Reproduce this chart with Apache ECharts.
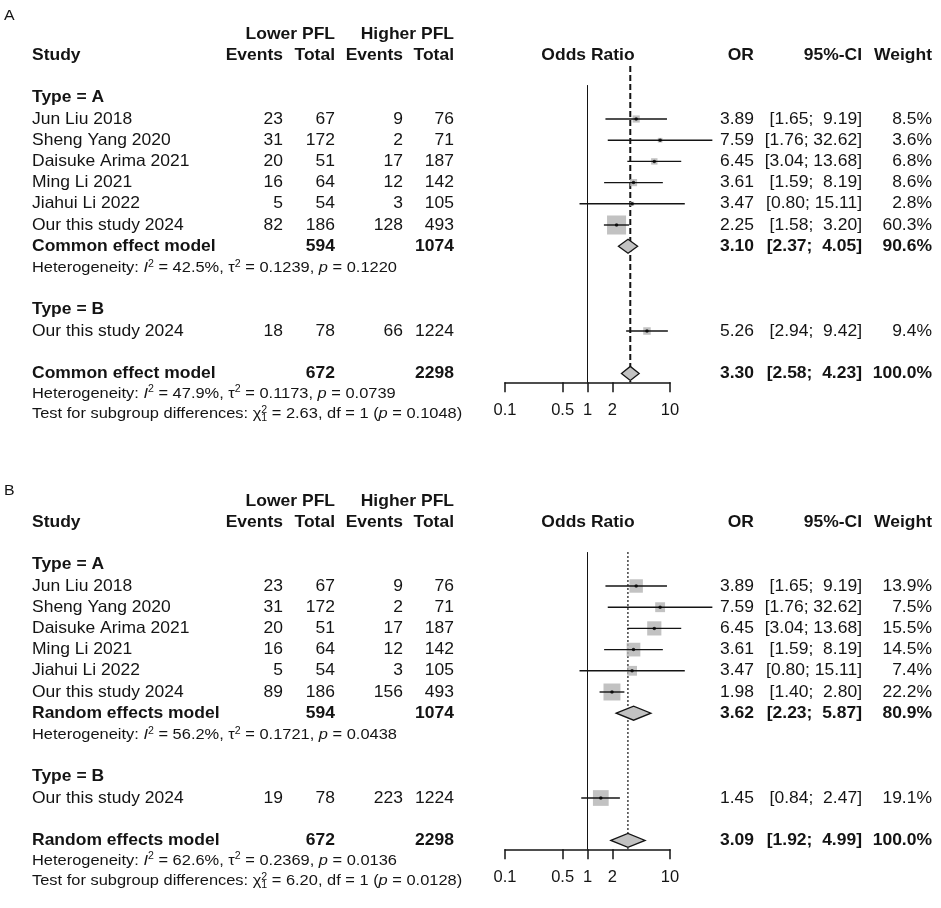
<!DOCTYPE html>
<html><head><meta charset="utf-8">
<script src="https://cdn.jsdelivr.net/npm/echarts@6/dist/echarts.min.js"></script>
<style>html,body{margin:0;padding:0;background:#fff}#c{width:941px;height:908px}</style>
</head><body><div id="c"></div>
<script>
// ================= DATA =================
// rows: 6 studies of Type = A, then the single study of Type = B
const studyNames = ['Jun Liu 2018','Sheng Yang 2020','Daisuke Arima 2021','Ming Li 2021','Jiahui Li 2022','Our this study 2024','Our this study 2024'];
const studyType  = ['A','A','A','A','A','A','B'];

// Panel A (common effect model)
const aLowEvents  = [23, 31, 20, 16, 5, 82, 18];
const aLowTotal   = [67, 172, 51, 64, 54, 186, 78];
const aHighEvents = [9, 2, 17, 12, 3, 128, 66];
const aHighTotal  = [76, 71, 187, 142, 105, 493, 1224];
const aOR     = [3.89, 7.59, 6.45, 3.61, 3.47, 2.25, 5.26];
const aLower  = [1.65, 1.76, 3.04, 1.59, 0.80, 1.58, 2.94];
const aUpper  = [9.19, 32.62, 13.68, 8.19, 15.11, 3.20, 9.42];
const aWeight = [8.5, 3.6, 6.8, 8.6, 2.8, 60.3, 9.4];
// model rows: [subgroup A, overall]
const aModelLowTotal  = [594, 672];
const aModelHighTotal = [1074, 2298];
const aModelOR     = [3.10, 3.30];
const aModelLower  = [2.37, 2.58];
const aModelUpper  = [4.05, 4.23];
const aModelWeight = [90.6, 100.0];
const aHetI2   = ['42.5', '47.9'];
const aHetTau2 = ['0.1239', '0.1173'];
const aHetP    = ['0.1220', '0.0739'];
const aTestChi2 = '2.63', aTestDf = '1', aTestP = '0.1048';

// Panel B (random effects model)
const bLowEvents  = [23, 31, 20, 16, 5, 89, 19];
const bLowTotal   = [67, 172, 51, 64, 54, 186, 78];
const bHighEvents = [9, 2, 17, 12, 3, 156, 223];
const bHighTotal  = [76, 71, 187, 142, 105, 493, 1224];
const bOR     = [3.89, 7.59, 6.45, 3.61, 3.47, 1.98, 1.45];
const bLower  = [1.65, 1.76, 3.04, 1.59, 0.80, 1.40, 0.84];
const bUpper  = [9.19, 32.62, 13.68, 8.19, 15.11, 2.80, 2.47];
const bWeight = [13.9, 7.5, 15.5, 14.5, 7.4, 22.2, 19.1];
const bModelLowTotal  = [594, 672];
const bModelHighTotal = [1074, 2298];
const bModelOR     = [3.62, 3.09];
const bModelLower  = [2.23, 1.92];
const bModelUpper  = [5.87, 4.99];
const bModelWeight = [80.9, 100.0];
const bHetI2   = ['56.2', '62.6'];
const bHetTau2 = ['0.1721', '0.2369'];
const bHetP    = ['0.0438', '0.0136'];
const bTestChi2 = '6.20', bTestDf = '1', bTestP = '0.0128';

const axisTicks = [0.1, 0.5, 1, 2, 10];

// ================= LAYOUT / STYLE =================
const FONT = "'Liberation Sans', Arial, Helvetica, sans-serif";
const INK = '#141414';
const ROW_H = 21.2;
const ROW0_Y = [119, 586];
const R_MIN = -3, R_AXIS = 12.42;
const BOX_SCALE = [2.45, 3.6];
const SX = 1.06;
const FS = 16.5, FS_SMALL = 15.5;

const panels = [
  {label:'A', model:'Common effect model', le:aLowEvents, lt:aLowTotal, he:aHighEvents, ht:aHighTotal,
   or:aOR, lo:aLower, hi:aUpper, w:aWeight, mlt:aModelLowTotal, mht:aModelHighTotal, mor:aModelOR,
   mlo:aModelLower, mhi:aModelUpper, mw:aModelWeight, i2:aHetI2, tau2:aHetTau2, hp:aHetP,
   chi:aTestChi2, df:aTestDf, tp:aTestP, refTop:-2.5, dash:[6,3], dashW:2},
  {label:'B', model:'Random effects model', le:bLowEvents, lt:bLowTotal, he:bHighEvents, ht:bHighTotal,
   or:bOR, lo:bLower, hi:bUpper, w:bWeight, mlt:bModelLowTotal, mht:bModelHighTotal, mor:bModelOR,
   mlo:bModelLower, mhi:bModelUpper, mw:bModelWeight, i2:bHetI2, tau2:bHetTau2, hp:bHetP,
   chi:bTestChi2, df:bTestDf, tp:bTestP, refTop:-1.6, dash:[2,2], dashW:1.2}
];
const studyRow = studyType.map((t, i) => t === 'A' ? i : 10);
const modelRow = [6, 12];

const chart = echarts.init(document.getElementById('c'), null, {renderer:'canvas'});

const grids = [], xAxes = [], yAxes = [], series = [];
panels.forEach((P, p) => {
  grids.push({left:505, width:165, top:ROW0_Y[p] + R_MIN*ROW_H, height:(R_AXIS - R_MIN)*ROW_H, outerBoundsMode:'none', containLabel:false});
  xAxes.push({type:'log', logBase:10, min:0.1, max:10, gridIndex:p, position:'bottom',
    axisLine:{show:true, onZero:false, lineStyle:{color:INK, width:1.5}},
    axisTick:{show:true, customValues:axisTicks, length:10, lineStyle:{color:INK, width:1.5}},
    axisLabel:{show:true, customValues:axisTicks, margin:20, fontSize:FS, fontFamily:FONT, color:INK,
      formatter: v => String(+Number(v).toPrecision(3))},
    splitLine:{show:false}, minorTick:{show:false}});
  yAxes.push({type:'value', gridIndex:p, min:R_MIN, max:R_AXIS, inverse:true, show:false});

  // reference lines (no effect at 1, pooled estimate)
  series.push({type:'custom', xAxisIndex:p, yAxisIndex:p, clip:false, silent:true, z:1,
    data:[[1, -1.6, R_AXIS, 0], [P.mor[1], P.refTop, R_AXIS, 1]],
    renderItem:(params, api) => {
      const a = api.coord([api.value(0), api.value(1)]);
      const b = api.coord([api.value(0), api.value(2)]);
      const k = api.value(3);
      return {type:'line', shape:{x1:a[0], y1:a[1], x2:b[0], y2:b[1]},
        style: k === 0 ? {stroke:INK, lineWidth:1} : {stroke:INK, lineWidth:P.dashW, lineDash:P.dash}};
    }});
  // boxes
  series.push({type:'scatter', xAxisIndex:p, yAxisIndex:p, silent:true, z:2,
    symbol:'rect', symbolSize: v => BOX_SCALE[p]*Math.sqrt(v[2]),
    itemStyle:{color:'#b3b3b3'},
    data: P.or.map((o, i) => [o, studyRow[i], P.w[i]])});
  // confidence intervals
  series.push({type:'custom', xAxisIndex:p, yAxisIndex:p, clip:false, silent:true, z:3,
    data: P.lo.map((l, i) => [l, P.hi[i], studyRow[i]]),
    renderItem:(params, api) => {
      const a = api.coord([api.value(0), api.value(2)]);
      const b = api.coord([api.value(1), api.value(2)]);
      return {type:'line', shape:{x1:a[0], y1:a[1], x2:b[0], y2:b[1]}, style:{stroke:INK, lineWidth:1.4}};
    }});
  // point estimate dot
  series.push({type:'scatter', xAxisIndex:p, yAxisIndex:p, silent:true, z:4,
    symbol:'circle', symbolSize:3.5, itemStyle:{color:'#000'},
    data: P.or.map((o, i) => [o, studyRow[i]])});
  // diamonds
  series.push({type:'custom', xAxisIndex:p, yAxisIndex:p, clip:false, silent:true, z:5,
    data: P.mor.map((m, j) => [P.mlo[j], m, P.mhi[j], modelRow[j]]),
    renderItem:(params, api) => {
      const r = api.value(3);
      const l = api.coord([api.value(0), r]);
      const c = api.coord([api.value(1), r]);
      const h = api.coord([api.value(2), r]);
      return {type:'polygon', shape:{points:[[l[0], l[1]], [c[0], c[1]-7], [h[0], h[1]], [c[0], c[1]+7]]},
        style:{fill:'#c2c2c2', stroke:INK, lineWidth:1.3}};
    }});
});

chart.setOption({animation:false, backgroundColor:'#fff', grid:grids, xAxis:xAxes, yAxis:yAxes, series});

// ================= TEXT TABLE =================
function txt(x, y, text, opt) {
  return {type:'text', x, y, scaleX:SX, silent:true, z:20,
    style:Object.assign({text, x:0, y:0, fontSize:FS, fontFamily:FONT, fontWeight:'normal', fill:INK,
      align:'left', verticalAlign:'middle'}, opt || {})};
}
function rich(x, y, text) {
  return {type:'text', x, y, scaleX:SX, silent:true, z:20,
    style:{text, x:0, y:0, fontSize:FS_SMALL, fontFamily:FONT, fill:INK, align:'left', verticalAlign:'middle', lineHeight:18,
      rich:{
        it:{fontStyle:'italic', fontSize:FS_SMALL, fontFamily:FONT, fill:INK, lineHeight:18},
        sup:{fontSize:10, fontFamily:FONT, fill:INK, verticalAlign:'top', lineHeight:10},
        sub:{fontSize:10, fontFamily:FONT, fill:INK, verticalAlign:'bottom', lineHeight:10, padding:[0,0,0,-5.6]}
      }}};
}
const pad = (s, n) => (s.length < n ? ' '.repeat(n - s.length) : '') + s;
const ci = (l, h) => '[' + l.toFixed(2) + '; ' + pad(h.toFixed(2), 5) + ']';
const R = {align:'right'}, B = {fontWeight:'bold'}, RB = {align:'right', fontWeight:'bold'};

const els = [];
panels.forEach((P, p) => {
  const Y = r => chart.convertToPixel({yAxisIndex:p}, r);
  els.push(txt(4, p === 0 ? 16 : 491, P.label, {fontSize:15}));
  els.push(txt(335, Y(-4), 'Lower PFL', RB));
  els.push(txt(454, Y(-4), 'Higher PFL', RB));
  const hy = Y(-3.02);
  els.push(txt(32, hy, 'Study', B));
  els.push(txt(283, hy, 'Events', RB));
  els.push(txt(335, hy, 'Total', RB));
  els.push(txt(403, hy, 'Events', RB));
  els.push(txt(454, hy, 'Total', RB));
  els.push(txt(588, hy, 'Odds Ratio', {align:'center', fontWeight:'bold'}));
  els.push(txt(754, hy, 'OR', RB));
  els.push(txt(862, hy, '95%-CI', RB));
  els.push(txt(932, hy, 'Weight', RB));
  els.push(txt(32, Y(-1), 'Type = A', B));
  els.push(txt(32, Y(9), 'Type = B', B));
  studyNames.forEach((n, i) => {
    const y = Y(studyRow[i]);
    els.push(txt(32, y, n));
    els.push(txt(283, y, String(P.le[i]), R));
    els.push(txt(335, y, String(P.lt[i]), R));
    els.push(txt(403, y, String(P.he[i]), R));
    els.push(txt(454, y, String(P.ht[i]), R));
    els.push(txt(754, y, P.or[i].toFixed(2), R));
    els.push(txt(862, y, ci(P.lo[i], P.hi[i]), R));
    els.push(txt(932, y, P.w[i].toFixed(1) + '%', R));
  });
  modelRow.forEach((mr, j) => {
    const y = Y(mr);
    els.push(txt(32, y, P.model, B));
    els.push(txt(335, y, String(P.mlt[j]), RB));
    els.push(txt(454, y, String(P.mht[j]), RB));
    els.push(txt(754, y, P.mor[j].toFixed(2), RB));
    els.push(txt(862, y, ci(P.mlo[j], P.mhi[j]), RB));
    els.push(txt(932, y, P.mw[j].toFixed(1) + '%', RB));
  });
  [7.03, 12.95].forEach((r, j) => {
    els.push(rich(32, Y(r), 'Heterogeneity: {it|I}{sup|2} = ' + P.i2[j] + '%, τ{sup|2} = ' + P.tau2[j] + ', {it|p} = ' + P.hp[j]));
  });
  els.push(rich(32, Y(13.92), 'Test for subgroup differences: χ{sup|2}{sub|1} = ' + P.chi + ', df = ' + P.df + ' ({it|p} = ' + P.tp + ')'));
});
chart.setOption({graphic:{elements:els}});
</script>
</body></html>
